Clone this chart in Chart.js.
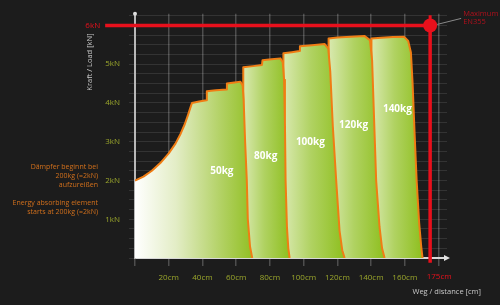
<!DOCTYPE html>
<html>
<head>
<meta charset="utf-8">
<script src="https://cdn.jsdelivr.net/npm/chart.js@4"></script>
<style>
  html, body { margin: 0; padding: 0; background: #1c1c1c; }
  #wrap { width: 500px; height: 305px; }
</style>
</head>
<body>
<div id="wrap"><canvas id="damper" width="500" height="305"></canvas></div>
<script>
// Kraft / Weg Verlauf je Gewicht (x = cm, y = kN)
const dist50 = [0, 5, 10, 15, 20, 24, 27, 29.5, 31.5, 33, 33.8, 38, 42.3, 42.6, 48, 54.2, 54.5, 59, 62.5, 63.8, 64.4, 65.3, 66.3, 66.9, 68.2, 69.5];
const load50 = [2.0, 2.1, 2.25, 2.45, 2.7, 2.95, 3.2, 3.45, 3.7, 3.9, 4.0, 4.04, 4.07, 4.3, 4.33, 4.35, 4.5, 4.53, 4.55, 4.45, 4.1, 3.0, 2.0, 1.0, 0.3, 0];

const dist80 = [64.2, 64.2, 70, 75.3, 75.6, 81, 86.2, 87.6, 88.4, 88.9, 89.3, 90.1, 90.9, 91.7];
const load80 = [0, 4.92, 4.95, 4.98, 5.1, 5.13, 5.15, 5.05, 4.6, 3.5, 2.0, 0.8, 0.25, 0];

const dist100 = [88, 88, 93, 97.5, 97.8, 105, 112.5, 114.6, 115.8, 117.3, 119.3, 121.3, 122.9, 124.3];
const load100 = [0, 5.28, 5.31, 5.34, 5.46, 5.49, 5.52, 5.4, 4.8, 3.4, 2.0, 0.7, 0.2, 0];

const dist120 = [114.8, 114.8, 120, 128, 136, 139.3, 140.6, 141.6, 143, 145, 146.5, 148];
const load120 = [0, 5.66, 5.69, 5.71, 5.73, 5.62, 5.1, 3.8, 2.0, 0.8, 0.25, 0];

const dist140 = [140.2, 140.2, 146, 153, 159.5, 162, 163.6, 164.6, 165.8, 167, 168.5, 169.7, 170.5];
const load140 = [0, 5.66, 5.68, 5.7, 5.71, 5.6, 5.3, 4.5, 3.2, 2.0, 0.9, 0.3, 0];

// Beschriftung der Flächen
const weights = ["50kg", "80kg", "100kg", "120kg", "140kg"];
const labelDist = [51.5, 77.5, 104, 129.6, 155.6];
const labelLoad = [2.25, 2.63, 3.0, 3.42, 3.85];

// Maximum EN355
const maxDist = [-17.7, 175, 175];
const maxLoad = [6, 6, -0.12];

// Achsen
const xTicks = [0, 20, 40, 60, 80, 100, 120, 140, 160, 175, 180];
const yTicks = [];
for (let i = 0; i <= 25; i++) yTicks.push(i / 4);

const ORANGE = "#f07d14";
const RED = "#e8101c";
const OLIVE = "#9aa62c";

Chart.defaults.font.family = '"Open Sans", sans-serif';

function toPoints(xs, ys) {
    return xs.map((x, i) => ({ x: x, y: ys[i] }));
}

function gradientFill(first, x0, x1) {
    return ctx => {
        const chart = ctx.chart;
        if (!chart.chartArea) return "#9cc531";
        const sx = chart.scales.x;
        const g = chart.ctx.createLinearGradient(sx.getPixelForValue(x0), 0, sx.getPixelForValue(x1), 0);
        if (first) {
            g.addColorStop(0, "#ffffff");
            g.addColorStop(0.35, "#e3edc6");
            g.addColorStop(0.75, "#b0d060");
            g.addColorStop(1, "#92c024");
        } else {
            g.addColorStop(0, "#d9e9b0");
            g.addColorStop(0.45, "#b0d262");
            g.addColorStop(1, "#8ebf1e");
        }
        return g;
    };
}

function region(xs, ys, first) {
    return {
        data: toPoints(xs, ys),
        fill: "origin",
        backgroundColor: gradientFill(first, xs[0], xs[xs.length - 1]),
        borderColor: ORANGE,
        borderWidth: 2,
        borderJoinStyle: "round",
        pointRadius: 0,
        tension: 0,
    };
}

const textPlugin = {
    id: "texts",
    afterDatasetsDraw(chart) {
        const { ctx, scales: { x, y } } = chart;
        ctx.save();

        // Gewichte
        ctx.fillStyle = "#ffffff";
        ctx.font = 'bold 10px "Open Sans"';
        ctx.textAlign = "center";
        ctx.textBaseline = "middle";
        weights.forEach((w, i) => ctx.fillText(w, x.getPixelForValue(labelDist[i]), y.getPixelForValue(labelLoad[i])));

        // 6kN und 175cm
        ctx.fillStyle = RED;
        ctx.font = '8px "Open Sans"';
        ctx.textAlign = "right";
        ctx.fillText("6kN", x.getPixelForValue(maxDist[0]) - 5, y.getPixelForValue(6));
        ctx.textAlign = "center";
        ctx.fillText("175cm", x.getPixelForValue(175) + 9, chart.chartArea.bottom + 19);

        // Maximum EN355
        const px = x.getPixelForValue(175), py = y.getPixelForValue(6);
        ctx.strokeStyle = "#8a8a8a";
        ctx.lineWidth = 1;
        ctx.beginPath();
        ctx.moveTo(px + 7, py - 1);
        ctx.lineTo(px + 31, py - 7);
        ctx.stroke();
        ctx.fillStyle = "#b0101c";
        ctx.font = '7.5px "Open Sans"';
        ctx.textAlign = "left";
        ctx.fillText("Maximum", px + 33, py - 12);
        ctx.fillText("EN355", px + 33, py - 4);

        // Achsentitel
        ctx.fillStyle = "#c8c8c8";
        ctx.font = '7.5px "Open Sans"';
        ctx.textAlign = "right";
        ctx.fillText("Weg / distance [cm]", 481, 292);
        ctx.save();
        ctx.translate(90, 62);
        ctx.rotate(-Math.PI / 2);
        ctx.textAlign = "center";
        ctx.fillText("Kraft / Load [kN]", 0, 0);
        ctx.restore();

        // Hinweis links
        ctx.fillStyle = "#d2701c";
        ctx.font = '7px "Open Sans"';
        ctx.textAlign = "right";
        ctx.fillText("Dämpfer beginnt bei", 98, 167);
        ctx.fillText("200kg (=2kN)", 98, 176);
        ctx.fillText("aufzureißen", 98, 185);
        ctx.fillText("Energy absorbing element", 98, 203);
        ctx.fillText("starts at 200kg (=2kN)", 98, 212);

        // Pfeilspitzen der Achsen
        const { left, right, top, bottom } = chart.chartArea;
        ctx.fillStyle = "#e0e0e0";
        ctx.beginPath();
        ctx.moveTo(right + 3, bottom);
        ctx.lineTo(right - 3, bottom - 3);
        ctx.lineTo(right - 3, bottom + 3);
        ctx.closePath();
        ctx.fill();
        ctx.beginPath();
        ctx.arc(left, top, 2, 0, Math.PI * 2);
        ctx.fill();

        ctx.restore();
    },
};

new Chart(document.getElementById("damper"), {
    type: "line",
    data: {
        datasets: [
            {
                data: toPoints(maxDist, maxLoad),
                borderColor: RED,
                borderWidth: 3.5,
                pointRadius: [0, 7, 0],
                pointBackgroundColor: RED,
                pointBorderWidth: 0,
                fill: false,
                clip: false,
            },
            {
                data: toPoints([175, 175], [6.26, 6]),
                borderColor: RED,
                borderWidth: 3,
                pointRadius: 0,
                fill: false,
                clip: false,
            },
            region(dist50, load50, true),
            region(dist80, load80, false),
            region(dist100, load100, false),
            region(dist120, load120, false),
            region(dist140, load140, false),
        ],
    },
    options: {
        responsive: false,
        animation: false,
        layout: { padding: { top: 11, right: 53, left: 0, bottom: 0 } },
        plugins: {
            legend: { display: false },
            tooltip: { enabled: false },
        },
        scales: {
            x: {
                type: "linear",
                min: 0,
                max: 185,
                afterBuildTicks: s => { s.ticks = xTicks.map(v => ({ value: v })); },
                afterFit: s => { s.height = 47; },
                grid: {
                    color: c => (c.tick && c.tick.value === 175 ? "transparent" : "rgba(255,255,255,0.22)"),
                    lineWidth: 1.5,
                    tickLength: 8,
                },
                border: { color: "#d8d8d8", width: 2 },
                ticks: {
                    autoSkip: false,
                    maxRotation: 0,
                    minRotation: 0,
                    padding: 7,
                    font: { size: 8 },
                    color: OLIVE,
                    callback: v => (v === 0 || v >= 175 ? "" : v + "cm"),
                },
            },
            y: {
                min: 0,
                max: 6.3,
                afterBuildTicks: s => { s.ticks = yTicks.map(v => ({ value: v })); },
                afterFit: s => { s.width = 135; },
                grid: {
                    color: "rgba(255,255,255,0.1)",
                    lineWidth: 1,
                    tickLength: 6,
                },
                border: { color: "#b8b8b8", width: 2 },
                ticks: {
                    autoSkip: false,
                    padding: 9,
                    font: { size: 8 },
                    color: OLIVE,
                    callback: v => (Number.isInteger(v) && v > 0 && v < 6 ? v + "kN" : ""),
                },
            },
        },
    },
    plugins: [textPlugin],
});
</script>
</body>
</html>
